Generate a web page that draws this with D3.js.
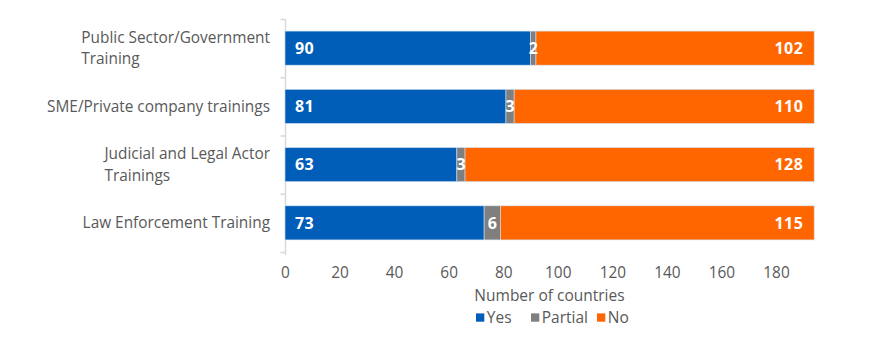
<!DOCTYPE html>
<html><head><meta charset="utf-8">
<script src="https://cdn.jsdelivr.net/npm/d3@7"></script>
<style>body{margin:0;background:#fff}svg{display:block}text{font-family:"Open Sans",sans-serif}</style>
</head><body><svg id="c" width="877" height="355"></svg>
<script>
const categories = [["Public Sector/Government","Training"],["SME/Private company trainings"],["Judicial and Legal Actor","Trainings"],["Law Enforcement Training"]];
const yesValues = [90,81,63,73];
const partialValues = [2,3,3,6];
const noValues = [102,110,128,115];
const seriesNames = ["Yes","Partial","No"];
const tickValues = [0,20,40,60,80,100,120,140,160,180];
const colors = {"Yes":"#005EB8","Partial":"#7F7F7F","No":"#FF6600"};

const svg = d3.select("#c");
const x = d3.scaleLinear().domain([0,180]).range([285,776]);
const keys = categories.map((c,i)=>i);
const y = d3.scaleBand().domain(keys).range([19,252]).paddingInner(0.415).paddingOuter(0.2075);

const rows = keys.map(i=>({i, Yes:yesValues[i], Partial:partialValues[i], No:noValues[i]}));
const stack = d3.stack().keys(seriesNames)(rows);

// axis line and ticks
const yAxis = d3.axisLeft(d3.scaleLinear().domain([0,4]).range([y.range()[0], y.range()[1]])).ticks(4).tickSize(5).tickFormat("");
const ga = svg.append("g").attr("transform","translate(285.5,0)").call(yAxis);
ga.selectAll("path,line").attr("stroke","#D9D9D9").attr("stroke-width",1.5);
ga.select(".domain").attr("d",`M0,${y.range()[0]}V${y.range()[1]+3}`);

// bars
stack.forEach(s=>{
  svg.append("g").selectAll("rect").data(s).join("rect")
    .attr("x",d=>x(d[0])).attr("width",d=>x(d[1])-x(d[0]))
    .attr("y",d=>y(d.data.i)).attr("height",y.bandwidth())
    .attr("fill",colors[s.key]).attr("stroke","#cfe0f0").attr("stroke-width",0.6);
});

// value labels
const lab = svg.append("g").attr("fill","#fff").attr("font-weight","700").attr("font-size","16px").attr("letter-spacing","0.4px");
rows.forEach(r=>{
  const cy = y(r.i)+y.bandwidth()/2+5.8;
  lab.append("text").attr("x",x(0)+10).attr("y",cy).text(r.Yes);
  lab.append("text").attr("x",(x(r.Yes)+x(r.Yes+r.Partial))/2+0.3).attr("y",cy).attr("text-anchor","middle").text(r.Partial);
  lab.append("text").attr("x",x(r.Yes+r.Partial+r.No)-11).attr("y",cy).attr("text-anchor","end").text(r.No);
});

// category labels (block right-aligned, lines left-aligned)
const cl = svg.append("g").attr("fill","#595959").attr("font-size","15.4px");
categories.forEach((c,i)=>{
  const cy = y(i)+y.bandwidth()/2;
  const n = c.length;
  const ts = c.map((line,j)=>cl.append("text").attr("y",cy+5.3+(j-(n-1)/2)*21.2).text(line));
  const w = d3.max(ts, s=>s.node().getComputedTextLength());
  ts.forEach(s=>s.attr("x",270-w));
});

// x tick labels
const xAxis = d3.axisBottom(x).tickValues(tickValues).tickSize(0).tickPadding(0);
const gx = svg.append("g").attr("transform","translate(0,267)").call(xAxis);
gx.select(".domain").remove();
gx.selectAll("text").attr("fill","#595959").attr("font-size","15.4px").attr("font-family","Open Sans, sans-serif").attr("dy","0.71em");

svg.append("text").attr("x",549.5).attr("y",300.5).attr("text-anchor","middle").attr("fill","#595959").attr("font-size","15.5px").text("Number of countries");

// legend
const lg = svg.append("g");
const lx = [476,531,597];
seriesNames.forEach((k,i)=>{
  lg.append("rect").attr("x",lx[i]).attr("y",313.4).attr("width",8.3).attr("height",8.3).attr("fill",colors[k]);
  lg.append("text").attr("x",lx[i]+10.8).attr("y",322.7).attr("fill","#595959").attr("font-size","15.5px").text(k);
});
</script></body></html>
